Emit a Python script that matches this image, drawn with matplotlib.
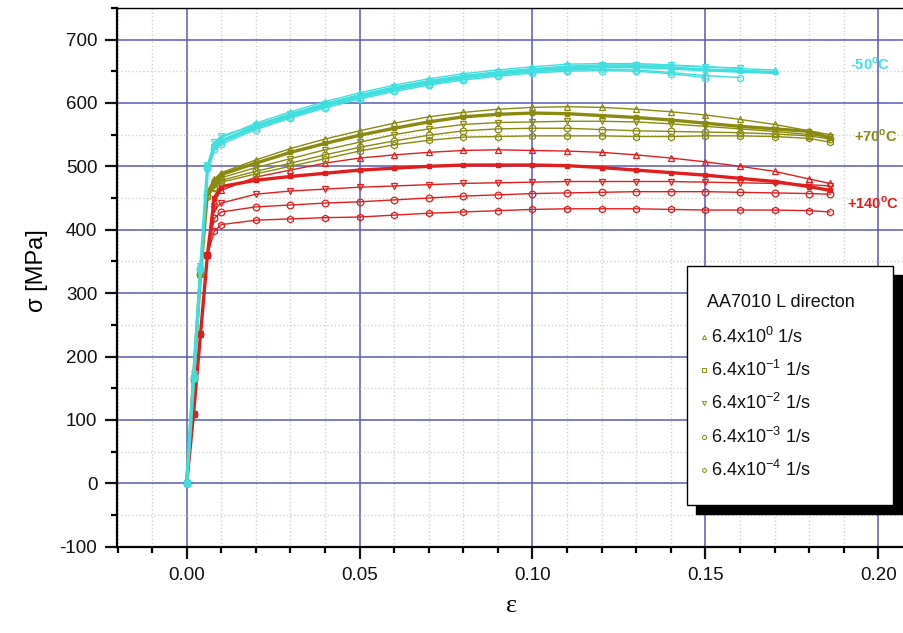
import matplotlib
matplotlib.use('Agg')
import matplotlib.pyplot as plt
from matplotlib.patches import Rectangle
from matplotlib.lines import Line2D
from matplotlib.ticker import MultipleLocator

plt.rcParams['font.family'] = ['Liberation Sans', 'DejaVu Sans']
plt.rcParams['axes.unicode_minus'] = False
plt.rcParams['mathtext.fontset'] = 'custom'
plt.rcParams['mathtext.rm'] = 'Liberation Sans'
plt.rcParams['mathtext.bf'] = 'Liberation Sans:bold'

# strain values, shared by all curves (each curve stops where its list ends)
strain = [0.0, 0.002, 0.004, 0.006, 0.008, 0.01, 0.02, 0.03, 0.04, 0.05,
          0.06, 0.07, 0.08, 0.09, 0.10, 0.11, 0.12, 0.13, 0.14, 0.15,
          0.16, 0.17, 0.18, 0.186]

rate_labels = ['6.4x10$^{\\mathrm{0}}$ 1/s', '6.4x10$^{\\mathrm{-1}}$ 1/s',
               '6.4x10$^{\\mathrm{-2}}$ 1/s', '6.4x10$^{\\mathrm{-3}}$ 1/s',
               '6.4x10$^{\\mathrm{-4}}$ 1/s']

# -50 C
cold_r0 = [0, 170, 340, 500, 535, 545, 568, 586, 602, 616, 628, 638, 646, 652,
           657, 661, 662, 662, 660, 657, 654, 652]
cold_r1 = [0, 165, 335, 495, 530, 540, 563, 581, 597, 611, 623, 633, 641, 647,
           652, 655, 657, 657, 655, 652, 650, 648]
cold_r2 = [0, 172, 342, 502, 538, 548, 565, 583, 599, 613, 625, 635, 643, 649,
           654, 658, 660, 660, 659, 657, 655]
cold_r3 = [0, 168, 338, 498, 528, 535, 558, 576, 592, 606, 618, 628, 636, 642,
           647, 650, 651, 650, 646, 640]
cold_r4 = [0, 170, 340, 500, 532, 538, 560, 578, 594, 608, 620, 630, 638, 644,
           649, 652, 653, 652, 648, 643, 640]

# +70 C
warm_r0 = [0, 165, 330, 460, 480, 490, 510, 528, 543, 556, 568, 578, 585, 590,
           593, 594, 593, 590, 586, 581, 574, 566, 556, 550]
warm_r1 = [0, 165, 330, 458, 477, 487, 505, 522, 536, 549, 560, 570, 578, 582,
           584, 583, 580, 577, 573, 568, 563, 559, 555, 545]
warm_r2 = [0, 165, 330, 456, 472, 482, 498, 512, 526, 538, 550, 559, 566, 569,
           570, 571, 571, 570, 567, 563, 559, 555, 550, 546]
warm_r3 = [0, 165, 330, 455, 468, 478, 492, 505, 518, 530, 540, 549, 556, 559,
           560, 560, 558, 556, 555, 554, 553, 551, 548, 543]
warm_r4 = [0, 165, 330, 452, 465, 475, 488, 500, 512, 524, 534, 541, 546, 547,
           548, 548, 548, 547, 547, 548, 548, 547, 544, 538]

# +140 C
hot_r0 = [0, 110, 235, 360, 445, 462, 483, 494, 505, 513, 518, 522, 525, 526,
          525, 524, 522, 518, 513, 507, 500, 492, 480, 473]
hot_r1 = [0, 110, 235, 360, 450, 468, 478, 484, 489, 494, 497, 500, 502, 502,
          502, 501, 498, 494, 490, 486, 481, 476, 468, 462]
hot_r2 = [0, 110, 235, 360, 432, 442, 456, 461, 464, 467, 469, 471, 473, 474,
          475, 476, 476, 476, 476, 475, 474, 473, 471, 469]
hot_r3 = [0, 110, 235, 360, 418, 428, 436, 439, 442, 444, 447, 450, 453, 455,
          457, 458, 459, 460, 460, 460, 459, 458, 457, 456]
hot_r4 = [0, 110, 235, 360, 398, 408, 415, 417, 419, 420, 423, 426, 428, 430,
          432, 433, 433, 433, 432, 431, 431, 431, 430, 428]

groups = [
    ('#e01e1e', [hot_r0, hot_r1, hot_r2, hot_r3, hot_r4]),
    ('#8a8a10', [warm_r0, warm_r1, warm_r2, warm_r3, warm_r4]),
    ('#40dede', [cold_r0, cold_r1, cold_r2, cold_r3, cold_r4]),
]
markers = ['^', 's', 'v', 'o', 'h']

fig = plt.figure(figsize=(9.04, 6.33), dpi=100)
W, H = 904.0, 633.0
ax = fig.add_axes([117.5 / W, 1 - 546.7 / H, 795.4 / W, 538.9 / H])

for col, curves in groups:
    for k, sig in enumerate(curves):
        eps = strain[:len(sig)]
        if markers[k] == 's':
            ax.plot(eps, sig, color=col, lw=2.4, marker='s', ms=2.5,
                    mfc=col, mec=col, zorder=3)
        else:
            ax.plot(eps, sig, color=col, lw=1.0, marker=markers[k], ms=4.8,
                    mfc='none', mec=col, mew=0.9, zorder=3)

ax.set_xlim(-0.02, 0.21)
ax.set_ylim(-100, 750)
ax.xaxis.set_major_locator(MultipleLocator(0.05))
ax.xaxis.set_minor_locator(MultipleLocator(0.01))
ax.yaxis.set_major_locator(MultipleLocator(100))
ax.yaxis.set_minor_locator(MultipleLocator(50))
ax.set_xticks([0.0, 0.05, 0.10, 0.15, 0.20])
ax.set_xticklabels(['0.00', '0.05', '0.10', '0.15', '0.20'])
ax.set_yticks(range(-100, 701, 100))

ax.grid(which='major', color='#5a5ab8', lw=1.1, zorder=0)
ax.grid(which='minor', color='#c9d6c9', lw=1.0, ls=':', zorder=0)
ax.set_axisbelow(True)

ax.tick_params(which='major', direction='out', length=8.5, width=1.6,
               labelsize=13.5, pad=6, colors='#111111')
ax.tick_params(which='minor', direction='out', length=4.5, width=1.6)
ax.spines['left'].set_linewidth(1.6)
ax.spines['bottom'].set_linewidth(1.6)
ax.spines['top'].set_linewidth(1.0)
ax.spines['right'].set_visible(False)

ax.set_ylabel('σ [MPa]', fontsize=17)
ax.yaxis.set_label_coords(-0.087, 0.513)
ax.set_xlabel('ε', fontsize=19, family=['Liberation Serif', 'DejaVu Serif'])
ax.xaxis.set_label_coords(0.496, -0.09)

# temperature tags
ax.text(0.1976, 661, r'-50$^\mathbf{o}$C', color='#40dede', fontsize=10.5,
        fontweight='bold', ha='center', va='center')
ax.text(0.1993, 548, r'+70$^\mathbf{o}$C', color='#8a8a10', fontsize=10.5,
        fontweight='bold', ha='center', va='center')
ax.text(0.1985, 442, r'+140$^\mathbf{o}$C', color='#e01e1e', fontsize=10.5,
        fontweight='bold', ha='center', va='center')

# legend box with black drop shadow (drawn in figure pixels)
def fx(px):
    return px / W

def fy(py):
    return 1 - py / H

fig.add_artist(Rectangle((fx(696), fy(514)), fx(206), 239 / H,
                         transform=fig.transFigure, facecolor='black',
                         edgecolor='black', zorder=5))
fig.add_artist(Rectangle((fx(687), fy(505)), fx(206), 239 / H,
                         transform=fig.transFigure, facecolor='white',
                         edgecolor='black', lw=1.0, zorder=6))
fig.text(fx(707), fy(303), 'AA7010 L directon', fontsize=13, va='center',
         ha='left', zorder=7, color='#111111')
row_y = [337, 370, 403, 437, 470]
for k in range(5):
    fig.add_artist(Line2D([fx(704)], [fy(row_y[k])], transform=fig.transFigure,
                          marker=markers[k], ms=3, mfc='none',
                          mec='#8a8a10', mew=0.7, zorder=7))
    fig.text(fx(711), fy(row_y[k]), rate_labels[k], fontsize=13, va='center',
             ha='left', zorder=7, color='#111111')

fig.savefig('out.png', dpi=100)
